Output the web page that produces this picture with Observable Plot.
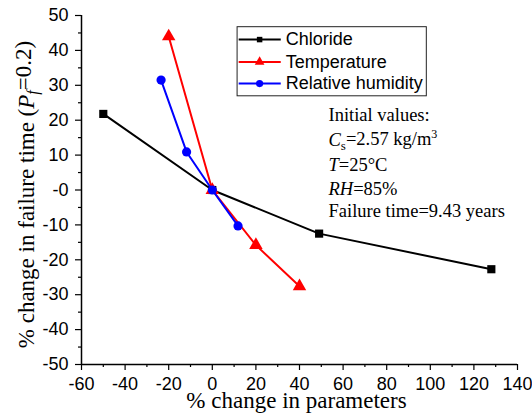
<!DOCTYPE html>
<html><head><meta charset="utf-8">
<script src="https://cdn.jsdelivr.net/npm/d3@7"></script>
<script src="https://cdn.jsdelivr.net/npm/@observablehq/plot@0.6"></script>
<style>html,body{margin:0;padding:0;background:#fff;}</style>
</head><body><div id="chart"></div>
<script>
// ---- data ----
const seriesNames = ["Chloride", "Temperature", "Relative humidity"];
const chlorideX = [-50, 0, 49, 128];
const chlorideY = [21.8, 0, -12.5, -22.7];
const temperatureX = [-20, 0, 20, 40];
const temperatureY = [44, 0, -15.8, -27.6];
const humidityX = [-23.5, -11.8, 0, 11.8];
const humidityY = [31.5, 10.9, 0, -10.3];
const xTicks = [-60, -40, -20, 0, 20, 40, 60, 80, 100, 120, 140];
const xMinorTicks = [-50, -30, -10, 10, 30, 50, 70, 90, 110, 130];
const yTicks = [-50, -40, -30, -20, -10, 0, 10, 20, 30, 40, 50];
const yMinorTicks = [-45, -35, -25, -15, -5, 5, 15, 25, 35, 45];
const yTickLabels = ["-50", "-40", "-30", "-20", "-10", "-0", "10", "20", "30", "40", "50"];
const annotationLines = ["Initial values:", "Cs=2.57 kg/m3", "T=25°C", "RH=85%", "Failure time=9.43 years"];
const xLabel = "% change in parameters";
const yLabel = "% change in failure time (Pf=0.2)";

// ---- styles / layout ----
const colors = ["#000000", "#ff0000", "#0000ff"];
const symbols = ["square", "triangle", "circle"];
const markerR = [4.6, 5.0, 4.6];
const legendMarkerR = [3.1, 3.6, 3.6];
const legendLayout = {x1: 11.6, x2: 98.4, y1: 26.85, y2: 46.65, lineX1: 12.1, lineX2: 31.4, markX: 21.7, textX: 33.7, rows: [43.1, 36.7, 30.5]};
const annotationLayout = {x: 53.3, rows: [19.75, 12.5, 5.4, -1.3, -7.6]};
const serif = "Liberation Serif, Times New Roman, serif";

const rich = {
  "Cs=2.57 kg/m3": '<tspan font-style="italic">C</tspan><tspan font-size="70%" dy="0.3em">s</tspan><tspan dy="-0.3em">=2.57 kg/m</tspan><tspan font-size="65%" dy="-0.55em">3</tspan>',
  "T=25°C": '<tspan font-style="italic">T</tspan>=25°C',
  "RH=85%": '<tspan font-style="italic">RH</tspan>=85%',
  "% change in failure time (Pf=0.2)": '% change in failure time (<tspan font-style="italic">P</tspan><tspan font-style="italic" font-size="70%" dy="0.3em">f</tspan><tspan dy="-0.3em">=0.2)</tspan>'
};

const seriesX = [chlorideX, temperatureX, humidityX];
const seriesY = [chlorideY, temperatureY, humidityY];

const marks = [];
// axes
marks.push(Plot.axisX({ticks: xMinorTicks, tickSize: 3, tickFormat: () => "", label: null, strokeWidth: 1.2}));
marks.push(Plot.axisX({ticks: xTicks, tickSize: 6, tickPadding: 7, tickFormat: d => String(d), label: null, fontSize: 18, strokeWidth: 1.2}));
marks.push(Plot.axisY({ticks: yMinorTicks, tickSize: 3, tickFormat: () => "", label: null, strokeWidth: 1.2}));
marks.push(Plot.axisY({ticks: yTicks, tickSize: 6, tickPadding: 7, tickFormat: d => yTickLabels[yTicks.indexOf(d)], label: null, fontSize: 18, strokeWidth: 1.2}));
marks.push(Plot.ruleY([-50], {stroke: "black", strokeWidth: 1.5}));
marks.push(Plot.ruleX([-60], {stroke: "black", strokeWidth: 1.5}));

// series
seriesNames.forEach((name, i) => {
  const pts = seriesX[i].map((x, j) => ({series: name, x, y: seriesY[i][j]}));
  marks.push(Plot.line(pts, {x: "x", y: "y", stroke: colors[i], strokeWidth: 2}));
  marks.push(Plot.dot(pts, {x: "x", y: "y", symbol: symbols[i], fill: colors[i], stroke: "none", r: markerR[i]}));
});

// legend
marks.push(Plot.rect([0], {x1: legendLayout.x1, x2: legendLayout.x2, y1: legendLayout.y1, y2: legendLayout.y2, fill: "white", stroke: "#222", strokeWidth: 1}));
seriesNames.forEach((name, i) => {
  const ry = legendLayout.rows[i];
  marks.push(Plot.link([name], {x1: legendLayout.lineX1, x2: legendLayout.lineX2, y1: ry, y2: ry, stroke: colors[i], strokeWidth: 2}));
  marks.push(Plot.dot([name], {x: legendLayout.markX, y: ry, symbol: symbols[i], fill: colors[i], stroke: "none", r: legendMarkerR[i]}));
  marks.push(Plot.text([name], {x: legendLayout.textX, y: ry, text: d => d, textAnchor: "start", lineAnchor: "middle", fontSize: 18, fill: "black"}));
});

// annotation
annotationLines.forEach((line, i) => {
  marks.push(Plot.text([line], {x: annotationLayout.x, y: annotationLayout.rows[i], text: d => d, textAnchor: "start", lineAnchor: "bottom", fontSize: 18.5, fontFamily: serif, fill: "black"}));
});

// axis titles
marks.push(Plot.text([xLabel], {frameAnchor: "bottom", textAnchor: "middle", dx: -3, dy: 43, text: d => d, lineAnchor: "bottom", fontSize: 23, fontFamily: serif, fill: "black"}));
marks.push(Plot.text([yLabel], {frameAnchor: "left", textAnchor: "middle", dx: -48, dy: 4.5, rotate: -90, text: d => d, lineAnchor: "bottom", fontSize: 23, fontFamily: serif, fill: "black"}));

const svg = Plot.plot({
  width: 532, height: 418,
  marginLeft: 81, marginRight: 15, marginTop: 15, marginBottom: 54,
  x: {domain: [-60, 140]},
  y: {domain: [-50, 50]},
  style: {fontFamily: "Liberation Sans, Arial, sans-serif", fontSize: "18px", background: "white", color: "black", overflow: "visible"},
  marks
});
d3.select(svg).selectAll("text").each(function() {
  const t = this.textContent;
  if (rich[t]) this.innerHTML = rich[t];
});
document.getElementById("chart").appendChild(svg);
</script>
</body></html>
